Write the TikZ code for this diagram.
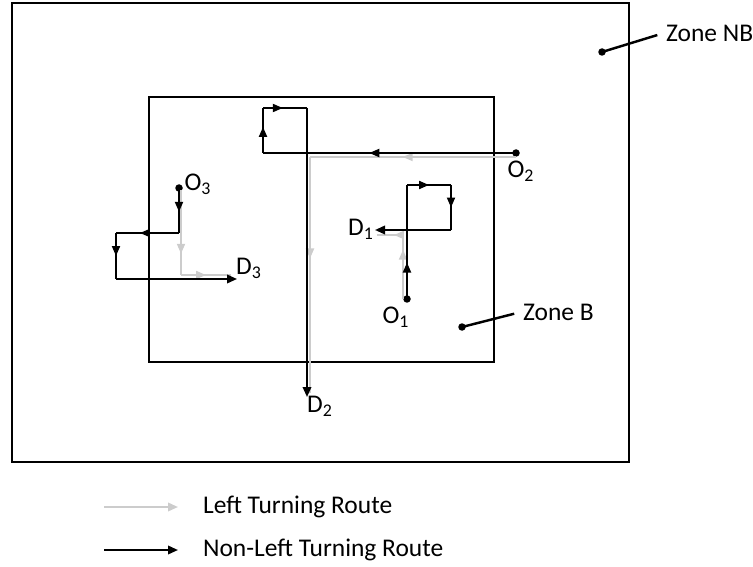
\documentclass[tikz,border=0pt]{standalone}
\usepackage{fontspec}
\setmainfont{Carlito}
\usetikzlibrary{arrows.meta, decorations.markings}

\begin{document}
\begin{tikzpicture}[x=0.02cm, y=-0.02cm,
	zone/.style={draw=black, line width=0.85pt},
	route/.style={draw=black, line width=1.1pt},
	leftroute/.style={draw=black!20, line width=1.1pt},
	tip/.style={-{Triangle[length=2mm, width=1.7mm]}},
	mid/.style={postaction={decorate}, decoration={markings,
	            mark=at position #1 with {\arrow{Triangle[length=2mm, width=1.6mm]}}}},
	mid/.default=0.5,
	dot/.style={circle, fill=black, inner sep=0pt, minimum size=1.5mm},
	lbl/.style={font=\fontsize{14.5}{16}\selectfont, inner sep=1pt},
	pointer/.style={draw=black, line width=1.4pt, shorten >=4pt}
	]
\useasboundingbox (0,0) rectangle (753,567);

% zones
\draw[zone] (12,3) rectangle (629,462);
\draw[zone] (149,97) rectangle (494,362);

\node[dot] (nb) at (602,52) {};
\node[lbl, anchor=west] (nbtxt) at (664,33) {Zone NB};
\draw[pointer] (nb.center) -- (nbtxt.west);
\node[dot] (b) at (462,327) {};
\node[lbl, anchor=west] (btxt) at (521,312) {Zone B};
\draw[pointer] (b.center) -- (btxt.west);

% origins and destinations
\node[dot] (o1) at (407,299) {};
\node[dot] (o2) at (516,153) {};
\node[dot] (o3) at (179,188) {};
\node[lbl] at (396,317) {O\textsubscript{1}};
\node[lbl] at (521,171) {O\textsubscript{2}};
\node[lbl] at (198,184) {O\textsubscript{3}};
\node[lbl] at (361,229) {D\textsubscript{1}};
\node[lbl] at (320,406) {D\textsubscript{2}};
\node[lbl] at (249,268) {D\textsubscript{3}};

\coordinate (d1) at (375,230);
\coordinate (d2) at (307,397);
\coordinate (d3) at (237,279);

% left turning routes
\coordinate (g10) at (403,299);
\coordinate (g11) at (403,235);
\coordinate (g12) at (377,235);
\draw[leftroute, mid=0.77] (g10) -- (g11);
\draw[leftroute, mid=0.35] (g11) -- (g12);

\coordinate (g20) at (516,157);
\coordinate (g21) at (310,157);
\coordinate (g22) at (310,393);
\draw[leftroute, mid=0.55] (g20) -- (g21);
\draw[leftroute, mid=0.43] (g21) -- (g22);

\coordinate (g30) at (181,190);
\coordinate (g31) at (181,275);
\coordinate (g32) at (231,275);
\draw[leftroute, mid=0.75] (g30) -- (g31);
\draw[leftroute, mid=0.5] (g31) -- (g32);

% non-left turning routes
\coordinate (c11) at (407,185);
\coordinate (c12) at (451,185);
\coordinate (c13) at (451,230);
\draw[route, mid=0.32] (o1.center) -- (c11);
\draw[route, mid] (c11) -- (c12);
\draw[route, mid] (c12) -- (c13);
\draw[route, tip] (c13) -- (d1);

\coordinate (c21) at (263,153);
\coordinate (c22) at (263,108);
\coordinate (c23) at (307,108);
\draw[route, mid=0.58] (o2.center) -- (c21);
\draw[route, mid=0.58] (c21) -- (c22);
\draw[route, mid=0.45] (c22) -- (c23);
\draw[route, tip] (c23) -- (d2);

\coordinate (c31) at (179,233);
\coordinate (c32) at (116,233);
\coordinate (c33) at (116,279);
\draw[route, mid=0.53] (o3.center) -- (c31);
\draw[route, mid=0.62] (c31) -- (c32);
\draw[route, mid] (c32) -- (c33);
\draw[route, tip] (c33) -- (d3);

% legend
\node[lbl, anchor=west] (lt) at (201,507) {Left Turning Route};
\node[lbl, anchor=west] (nlt) at (201,550) {Non-Left Turning Route};
\coordinate (lta) at (104,507);
\coordinate (ltb) at (178,507);
\coordinate (nlta) at (104,550);
\coordinate (nltb) at (178,550);
\draw[leftroute, tip] (lta) -- (ltb);
\draw[route, tip] (nlta) -- (nltb);
\end{tikzpicture}
\end{document}
